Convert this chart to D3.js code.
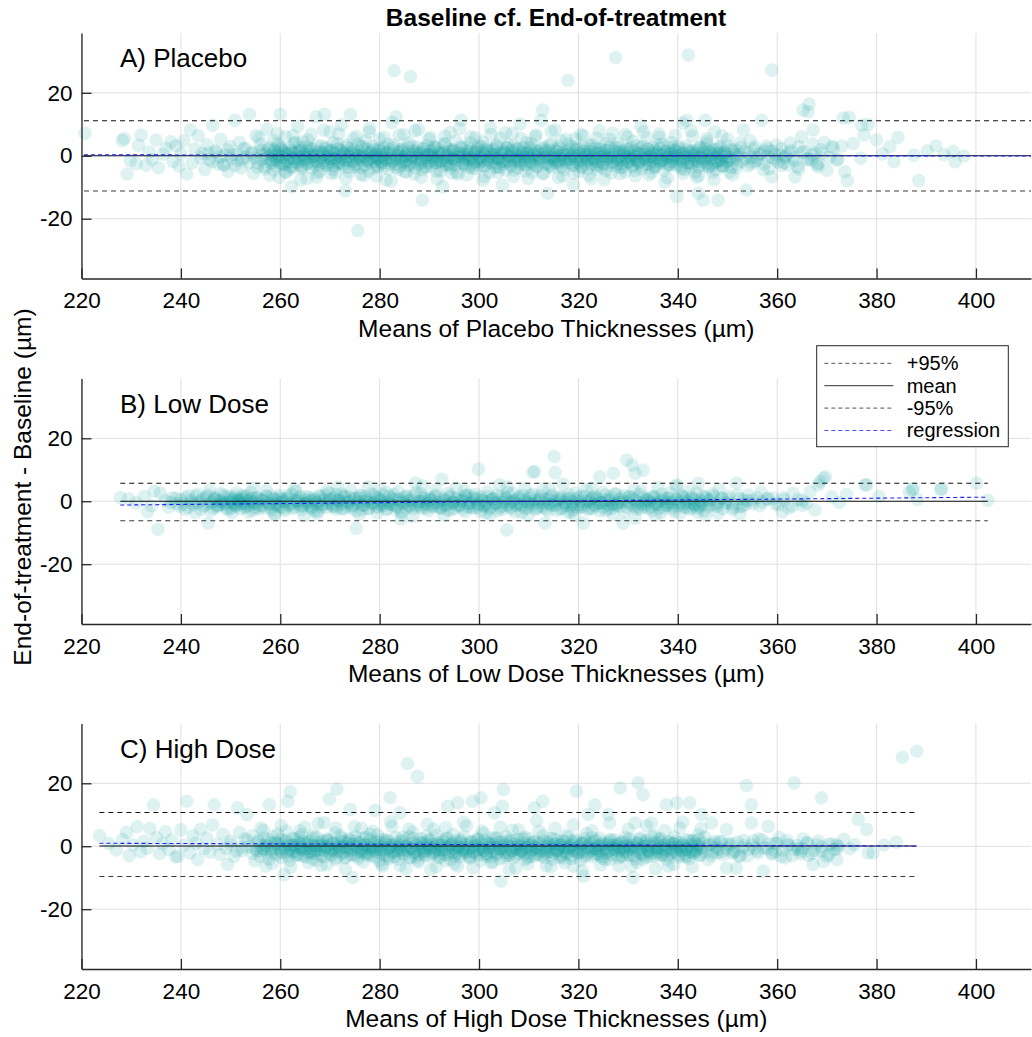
<!DOCTYPE html>
<html>
<head>
<meta charset="utf-8">
<script src="https://cdn.jsdelivr.net/npm/d3@7"></script>
<style>
  body { margin: 0; background: #fff; }
  svg { display: block; }
  text { font-family: "Liberation Sans", Arial, Helvetica, sans-serif; fill: #000; }
</style>
</head>
<body>
<svg id="chart" width="1032" height="1037"></svg>
<script>
// ---- Bland–Altman data: [mean of the two thicknesses (µm), end-of-treatment − baseline (µm)] ----
const figureTitle = "Baseline cf. End-of-treatment";
const yAxisTitle = "End-of-treatment - Baseline (µm)";
const panelNames = ["A) Placebo", "B) Low Dose", "C) High Dose"];
const xAxisTitles = [
  "Means of Placebo Thicknesses (µm)",
  "Means of Low Dose Thicknesses (µm)",
  "Means of High Dose Thicknesses (µm)"
];
const xTicks = [220, 240, 260, 280, 300, 320, 340, 360, 380, 400];
const yTicks = [-20, 0, 20];
const legendLabels = ["+95%", "mean", "-95%", "regression"];

// limits of agreement, mean difference and regression end values per group
const upperLimits = [11.1, 5.7, 10.7];
const meanDiffs = [0.0, 0.0, 0.1];
const lowerLimits = [-11.2, -6.2, -9.6];
const lineSpans = [[220.5, 412], [227.8, 402.4], [223.6, 388.1]];
const regressionEnds = [[0.3, -0.1], [-1.2, 1.3], [0.95, 0.05]];

const placeboPoints = [
[220.7,7.1],[228.6,5.5],[229.2,-5.8],[228.2,4.8],[229.8,-1.5],[231,-2.5],[231.5,3.3],[232,6.6],[233,-3],[233.6,1.2],[234.2,-1.2],[235,5],[235.5,-3.8],[236.4,0.5],[237,2.4],[238,4.4],[238.4,-1.8],[239,3.2],[239.6,-3.3],[240,0.6],
[240.6,4.7],[241.2,-5.8],[241.9,8.2],[242.3,-2.2],[242.8,2.1],[243.5,6.3],[244,-0.6],[244.3,0.8],[244.8,-4.4],[245.3,3.5],[245.7,-1.2],[246.4,9.7],[246.9,1.5],[247.4,-2.6],[248,5.2],[248.7,-3],[249,0.2],[249.5,-5],[249.9,2.9],
[250.4,0.4],[250.9,11.3],[251.3,-1.6],[251.8,4.3],[252.2,-3.9],[252.6,2.2],[253.1,-0.5],[253.8,13.2],[254.2,1.1],[254.6,-5.6],[255.1,6.4],[255.5,-2.3],[256,3.6],[256.4,0.2],[256.9,-4.1],[257.3,8.5],[257.7,1.9],[258.2,-1.4],[258.6,4.9],[259,-0.3],[259.5,3.7],[259.8,-6.9],
[260,13.2],[260.3,2],[260.7,-2.6],[261.1,6.1],[261.5,0.7],[261.9,-4.3],[262.3,-9.8],[262.8,3.9],[263.1,-1.1],[263.5,9.3],[263.9,1.6],[264.2,-3.2],[264.6,4.4],[265,-0.4],[265.4,-7.2],[265.8,2.7],[266.2,6.9],[266.6,-1.9],[267.2,12.4],[267.5,0.3],[267.9,-4.9],[268.3,3.1],[268.9,13.2],[269.2,-2.7],[269.6,1.2],[270,7.6],
[270.3,-0.9],[270.7,4.1],[271.1,-5.4],[271.5,2.4],[271.9,-2.1],[272.3,9.8],[272.7,0.5],[273.1,-11.1],[273.4,3.4],[273.8,-1.5],[274.1,13.2],[274.5,1.1],[274.9,-3.6],[275.3,6.2],[275.6,-23.8],[276,-0.2],[276.4,2.8],[276.8,-6.3],[277.2,4.7],[277.6,-1.3],[278,8.7],[278.4,0.9],[278.8,-3.9],[279.2,2],[279.6,-0.7],
[280,5.3],[280.4,-2.4],[280.8,1.4],[281.3,-7.7],[281.7,3.6],[282.1,-0.9],[282.5,10.6],[282.9,27],[283.3,12.4],[283.7,-4.4],[284.1,1.9],[284.5,-1.6],[284.9,6.7],[285.3,0.1],[285.7,-2.9],[286.2,25.1],[286.6,3],[287,-5.8],[287.4,0.8],[287.8,8.3],[288.2,-1.8],[288.6,-14.1],[289,2.3],[289.4,-3.5],[289.8,0.4],
[290.2,5.9],[290.6,-0.6],[291,2.8],[291.4,-4.9],[291.8,1.1],[292.2,-1.9],[292.7,-9.8],[293,3.9],[293.4,0.2],[293.8,-3],[294.2,7.4],[294.6,1.5],[295,-1.2],[295.4,4.6],[295.8,-5.9],[296.4,11.3],[296.7,0.7],[297.1,-2.5],[297.5,2.6],[297.9,-0.3],[298.3,6],[298.7,-4],[299.1,1.3],[299.5,-1.7],[299.9,3.2],
[300.3,-0.8],[300.7,4.4],[301.1,-6.6],[301.5,1.8],[301.9,-2.3],[302.3,8.9],[302.7,0.4],[303.1,-3.7],[303.5,2.9],[303.9,-1],[304.3,5.6],[304.7,-9.3],[305.1,1],[305.5,-2],[305.9,3.5],[306.3,-0.4],[306.7,7.1],[307.1,-4.6],[307.5,2.2],[307.9,-1.4],[308.3,10.1],[308.7,0.9],[309.1,-2.8],[309.5,4.1],[309.9,-0.1],
[310.3,2.6],[310.7,-5.2],[311.1,0.6],[311.5,6.6],[311.9,-1.6],[312.5,11.3],[312.8,14.5],[313.2,1.7],[313.8,-11.9],[314.1,-3.1],[314.5,3.8],[314.9,-0.6],[315.3,8.2],[315.7,1.3],[316.1,-2.2],[316.5,4.8],[316.9,-6.4],[317.3,0.2],[317.9,24],[318.2,-1.1],[318.6,2.9],[319,-9.2],[319.4,5.4],[319.8,-0.3],
[320.2,1.9],[320.6,-3.4],[321,6.3],[321.4,0.5],[321.8,-1.8],[322.2,3.3],[322.6,-7.3],[323,-0.9],[323.4,2.4],[323.8,-4.2],[324.2,7.9],[324.6,1],[325,-2.6],[325.4,3.9],[325.8,-0.5],[326.2,5.2],[326.6,-5.5],[327.5,31.2],[327.4,1.6],[327.8,-1.5],[328.2,2.7],[328.6,-3.8],[329,0.3],[329.4,6.8],[329.8,-2],
[330.2,2],[330.6,-0.8],[331,4.6],[331.4,-4.7],[331.8,0.8],[332.2,-2.1],[332.6,9.4],[333,3],[333.4,-1.2],[333.8,5.7],[334.2,-6.1],[334.6,0.1],[335,2.5],[335.4,-3.3],[335.8,1.2],[336.2,7],[336.6,-1.6],[337,3.6],[337.4,-8.4],[337.8,0.6],[338.2,-2.7],[338.6,4.2],[339,-0.4],[339.4,1.8],[339.8,-13],
[340.2,3],[340.6,-1],[341,10.4],[341.4,-4.4],[341.8,11.3],[342.1,32],[342.2,1.4],[342.6,-2.3],[343,6.2],[343.4,0.2],[343.8,-6.8],[344.1,-11.9],[344.4,2.6],[344.8,-0.9],[345.1,-14.1],[345.5,11.3],[345.8,4.5],[346.2,-3.4],[346.6,1],[347,-5.3],[347.4,7.6],[347.8,-1.7],[348.1,-14.1],[348.5,2.9],[349,-3],[349.5,0.5],
[350,5.3],[350.5,-1.3],[351,-6.1],[351.5,2],[352,-0.2],[352.6,4],[353.2,8.2],[353.8,-10.9],[354.2,0.9],[354.8,-2.5],[355.5,2.9],[356,-0.6],[356.9,11.3],[357.4,1.5],[357.9,3.1],[358.4,-4],[358.9,-6.7],[358.9,27.2],[359.5,0.4],
[360.2,-2],[360.8,2.3],[361.5,-0.5],[362.2,-2.9],[362.8,1.6],[363.6,-6.7],[364.4,2.9],[364.9,6],[365.2,14.5],[366.2,14],[366.4,16.4],[366.9,-1.4],[367.2,8.2],[367.6,0.8],[368.2,-3.5],[368.8,1.9],[369.5,4.3],
[370.5,-0.6],[371.3,2.5],[372,-1.4],[373,3.1],[373.3,12],[373.6,-5.1],[374.1,-7.9],[374.5,12.2],[375.3,3.9],[376.8,-0.8],[377,9.7],[377.5,6.6],[378.3,10],[380,5],[381.2,0.6],[382.7,2.9],[383.5,-1.9],[384.3,5.9],[387.5,0.2],[388.5,-7.9],[390.2,1.5],[392,3.1],[393.6,0.3],[395.4,1.3],[395.8,-1.9],[397.6,-0.1]
];

// the dense central band of the placebo group
const placeboCorePoints = [
[256.2,-1.2],[256.5,1.8],[256.8,-3.4],[257.1,0.5],[257.4,-0.8],[257.7,2.6],[258,-2.1],[258.3,0.1],[258.6,-4.6],[258.9,1.3],[259.2,-1.5],[259.5,0.8],[259.8,3.1],[260.1,-2.8],[260.4,-0.4],[260.7,1.6],[261,-5.1],[261.3,0.3],[261.6,-1.9],[261.9,2.4],[262.2,-0.7],[262.5,-3.6],[262.8,1],[263.1,4.2],[263.4,-2.3],[263.7,-0.1],[264,1.9],[264.3,-4],[264.6,-1.1],[264.9,0.6],
[265.2,2.9],[265.5,-2.6],[265.8,-0.5],[266.1,1.4],[266.4,-3.9],[266.7,0.2],[267,-1.4],[267.3,3.3],[267.6,-5.4],[267.9,-0.9],[268.2,1.2],[268.5,-2.2],[268.8,0.4],[269.1,2.2],[269.4,-3.1],[269.7,-0.3],[270,1.7],[270.3,-1.9],[270.6,-4.4],[270.9,0.9],[271.2,-0.6],[271.5,3.8],[271.8,-2.5],[272.1,0.1],[272.4,1.5],[272.7,-3.3],[273,-1.2],[273.3,2.7],[273.6,-0.2],[273.9,-5.1],
[274.2,0.7],[274.5,-1.6],[274.8,1.8],[275.1,-2.9],[275.4,0.3],[275.7,3.6],[276,-1],[276.3,-3.8],[276.6,0.5],[276.9,-0.4],[277.2,2.1],[277.5,-2],[277.8,-4.8],[278.1,1.1],[278.4,-0.8],[278.7,3],[279,-1.7],[279.3,0.2],[279.6,-3.5],[279.9,1.6],[280.2,-0.5],[280.5,-2.4],[280.8,2.6],[281.1,-1.1],[281.4,0.6],[281.7,-4.2],[282,1.9],[282.3,-0.3],[282.6,-1.8],[282.9,3.4],
[283.2,-2.7],[283.5,0.1],[283.8,1.2],[284.1,-3.2],[284.4,-0.7],[284.7,2.3],[285,-5],[285.3,-1.3],[285.6,0.9],[285.9,4],[286.2,-2.1],[286.5,-0.2],[286.8,1.5],[287.1,-3.7],[287.4,-1],[287.7,2.8],[288,0.3],[288.3,-2.5],[288.6,-4.4],[288.9,1.1],[289.2,-0.6],[289.5,3.2],[289.8,-1.9],[290.1,0.4],[290.4,-3.4],[290.7,1.7],[291,-0.9],[291.3,-2.3],[291.6,2.5],[291.9,-0.1],
[292.2,-4.9],[292.5,0.8],[292.8,-1.5],[293.1,3.7],[293.4,-2.8],[293.7,0],[294,1.3],[294.3,-3.6],[294.6,-0.8],[294.9,2],[295.2,-1.6],[295.5,-5.3],[295.8,0.6],[296.1,-0.4],[296.4,2.9],[296.7,-2.2],[297,0.2],[297.3,-3.1],[297.6,1.5],[297.9,-1.2],[298.2,4.1],[298.5,-0.3],[298.8,-2.6],[299.1,0.9],[299.4,-4.1],[299.7,2.2],[300,-0.7],[300.3,-1.8],[300.6,1.2],[300.9,-3.3],
[301.2,0.3],[301.5,2.7],[301.8,-1.4],[302.1,-5.2],[302.4,0.7],[302.7,-0.5],[303,1.9],[303.3,-2.4],[303.6,3.5],[303.9,-0.9],[304.2,-3.7],[304.5,0.4],[304.8,1.6],[305.1,-1.7],[305.4,-4.5],[305.7,2.4],[306,-0.2],[306.3,-2.8],[306.6,0.9],[306.9,3.1],[307.2,-1.3],[307.5,-0.4],[307.8,-3.9],[308.1,1.4],[308.4,-2],[308.7,0.1],[309,2.6],[309.3,-4.8],[309.6,-0.7],[309.9,1],
[310.2,-1.9],[310.5,3.9],[310.8,-2.9],[311.1,-0.1],[311.4,1.8],[311.7,-3.4],[312,0.5],[312.3,-1.1],[312.6,2.3],[312.9,-5.5],[313.2,-0.6],[313.5,1.1],[313.8,-2.3],[314.1,3.3],[314.4,0],[314.7,-3.8],[315,-1.3],[315.3,1.6],[315.6,-0.4],[315.9,-2.7],[316.2,2.8],[316.5,-1],[316.8,0.6],[317.1,-4.3],[317.4,-1.6],[317.7,1.4],[318,3.6],[318.3,-2.2],[318.6,-0.3],[318.9,0.9],
[319.2,-3.1],[319.5,2],[319.8,-1.5],[320.1,-5],[320.4,0.4],[320.7,-0.8],[321,2.6],[321.3,-2.6],[321.6,0.1],[321.9,-4],[322.2,1.3],[322.5,-1.2],[322.8,3.4],[323.1,-0.5],[323.4,-2.9],[323.7,0.8],[324,-1.7],[324.3,2.1],[324.6,-3.6],[324.9,-0.2],[325.2,1.6],[325.5,-4.7],[325.8,-1],[326.1,0.5],[326.4,2.9],[326.7,-2.1],[327,-0.4],[327.3,1.2],[327.6,-3.3],[327.9,3.8],
[328.2,-1.3],[328.5,0.2],[328.8,-2.5],[329.1,1.7],[329.4,-5.1],[329.7,-0.6],[330,0.9],[330.3,-1.8],[330.6,2.5],[330.9,-3.5],[331.2,0],[331.5,-1.1],[331.8,3.2],[332.1,-2.3],[332.4,0.6],[332.7,-4.2],[333,1.4],[333.3,-0.7],[333.6,-2.8],[333.9,2.2],[334.2,-0.3],[334.5,-1.6],[334.8,0.8],[335.1,-3.9],[335.4,1.9],[335.7,-0.9],[336,3.5],[336.3,-2],[336.6,0.3],[336.9,-1.4],
[337.2,-4.6],[337.5,1.1],[337.8,-0.5],[338.1,2.7],[338.4,-2.9],[338.7,0.5],[339,-1.2],[339.3,1.5],[339.6,-3.2],[339.9,-0.2],[340.2,2.3],[340.5,-1.7],[340.8,-4.1],[341.1,0.7],[341.4,-0.6],[341.7,3],[342,-2.4],[342.3,0.2],[342.6,-3.6],[342.9,1.6],[343.2,-1],[343.5,-5.2],[343.8,0.9],[344.1,-1.8],[344.4,2.7],[344.7,-0.4],[345,-2.9],[345.3,1.3],[345.6,-1.3],[345.9,3.6],
[346.2,-3.8],[346.5,0.4],[346.8,-0.8],[347.1,1.9],[347.4,-2.2],[347.7,-4.4],[348,0.6],[348.3,2.4],[348.6,-1.5],[348.9,-0.1],[349.2,-3.3],[349.5,1.2],[349.8,-2],[350.1,3.1],[350.4,-0.6],[350.7,-3.7],[351,1.4],[351.3,-1.2],[351.6,0.3],[351.9,-2.6],
[258.1,0.6],[258.4,-2.4],[258.7,1.9],[259,-0.9],[259.3,-3.2],[259.6,0.2],[259.9,-1.6],[260.2,2.3],[260.5,-0.6],[260.8,-2.9],[261.1,1],[261.4,-1.3],[261.7,0.4],[262,-3.4],[262.3,1.6],[262.6,-0.8],[262.9,-2],[263.2,0.9],[263.5,-0.3],[263.8,2.6],[264.1,-1.8],[264.4,-3.5],[264.7,0.3],[265,-1.1],[265.3,1.4],[265.6,-2.3],[265.9,0.7],[266.2,-0.4],[266.5,2.1],[266.8,-2.8],
[267.1,0],[267.4,-1.7],[267.7,1.3],[268,-3],[268.3,-0.6],[268.6,0.9],[268.9,-1.4],[269.2,2.7],[269.5,-2.1],[269.8,0.1],[270.1,-0.9],[270.4,1.6],[270.7,-3.3],[271,-1.2],[271.3,0.5],[271.6,-2],[271.9,2],[272.2,-0.5],[272.5,-2.6],[272.8,0.8],[273.1,-1.5],[273.4,1.2],[273.7,-3.7],[274,-0.3],[274.3,2.4],[274.6,-1.9],[274.9,0.2],[275.2,-0.8],[275.5,-2.7],[275.8,1.5],
[276.1,-0.1],[276.4,-1.6],[276.7,2.9],[277,-3.1],[277.3,-0.7],[277.6,0.7],[277.9,-1.3],[278.2,-2.3],[278.5,1.8],[278.8,-0.4],[279.1,0.4],[279.4,-2.9],[279.7,-1],[280,2.2],[280.3,-1.8],[280.6,0.3],[280.9,-3.4],[281.2,-0.6],[281.5,1.1],[281.8,-1.5],[282.1,-2.5],[282.4,0.6],[282.7,2.5],[283,-0.9],[283.3,-3.6],[283.6,-1.2],[283.9,0.9],[284.2,-0.2],[284.5,1.7],[284.8,-2.2],
[285.1,0],[285.4,-1.6],[285.7,2.6],[286,-3],[286.3,-0.8],[286.6,0.5],[286.9,-1.9],[287.2,1.3],[287.5,-0.4],[287.8,-2.8],[288.1,0.8],[288.4,-1.1],[288.7,2.1],[289,-3.5],[289.3,-0.3],[289.6,0.2],[289.9,-2.4],[290.2,1.5],[290.5,-1.4],[290.8,-0.1],[291.1,2.8],[291.4,-2.1],[291.7,-0.7],[292,0.6],[292.3,-1.6],[292.6,-3.3],[292.9,1.2],[293.2,-0.5],[293.5,-1.8],[293.8,2.3],
[294.1,-2.7],[294.4,0.3],[294.7,-1],[295,1.6],[295.3,-3.1],[295.6,-0.2],[295.9,-1.5],[296.2,0.9],[296.5,2.5],[296.8,-2.5],[297.1,-0.6],[297.4,-1.2],[297.7,0.5],[298,-3.6],[298.3,1.9],[298.6,-0.9],[298.9,-2],[299.2,0.1],[299.5,1.2],[299.8,-2.9],[300.1,-0.4],[300.4,2.9],[300.7,-1.6],[301,0.7],[301.3,-3.2],[301.6,-1.1],[301.9,1.4],[302.2,-0.3],[302.5,-2.2],[302.8,2.2],
[303.1,-1],[303.4,0.4],[303.7,-3.6],[304,-0.6],[304.3,1.1],[304.6,-1.7],[304.9,-2.6],[305.2,0.9],[305.5,2.6],[305.8,-1.3],[306.1,-0.2],[306.4,-3.3],[306.7,1.7],[307,-0.8],[307.3,-2],[307.6,0.3],[307.9,2.1],[308.2,-2.8],[308.5,-0.5],[308.8,1],[309.1,-1.4],[309.4,-3],[309.7,0.6],[310,-0.7],[310.3,2.4],[310.6,-2.3],[310.9,0.2],[311.2,-1.2],[311.5,-3.5],[311.8,1.3],
[312.1,-0.4],[312.4,-1.9],[312.7,0.8],[313,2.7],[313.3,-2.6],[313.6,-0.2],[313.9,-1],[314.2,1.6],[314.5,-3.2],[314.8,-0.6],[315.1,0.4],[315.4,-2.1],[315.7,2.2],[316,-1.5],[316.3,0.1],[316.6,-3.4],[316.9,1.1],[317.2,-0.7],[317.5,-2.4],[317.8,0.5],[318.1,1.9],[318.4,-1.2],[318.7,-3],[319,0],[319.3,-0.9],[319.6,2.6],[319.9,-2.2],[320.2,0.8],[320.5,-1.6],[320.8,-3.7],
[321.1,1.4],[321.4,-0.3],[321.7,-1.3],[322,0.3],[322.3,2.3],[322.6,-2.7],[322.9,-0.6],[323.2,1],[323.5,-1.8],[323.8,-3.3],[324.1,0.6],[324.4,-0.4],[324.7,2],[325,-2.3],[325.3,0],[325.6,-1.1],[325.9,1.6],[326.2,-3.1],[326.5,-0.8],[326.8,0.4],[327.1,-1.9],[327.4,2.7],[327.7,-2.5],[328,-0.3],[328.3,1.2],[328.6,-1.4],[328.9,-3.6],[329.2,0.9],[329.5,-0.6],[329.8,2.1],
[330.1,-2.1],[330.4,0.1],[330.7,-1.2],[331,-2.9],[331.3,1.5],[331.6,-0.4],[331.9,-1.7],[332.2,0.7],[332.5,2.5],[332.8,-3.2],[333.1,-0.9],[333.4,0.3],[333.7,-1.4],[334,1.9],[334.3,-2.6],[334.6,-0.2],[334.9,1.1],[335.2,-1.9],[335.5,-3.4],[335.8,0.5],[336.1,-0.7],[336.4,2.3],[336.7,-2.3],[337,0.2],[337.3,-1],[337.6,1.4],[337.9,-3],[338.2,-0.5],[338.5,0.8],[338.8,-1.8],
[339.1,2.6],[339.4,-2.4],[339.7,0.3],[340,-0.8],[340.3,1.2],[340.6,-3.3],[340.9,-1.4],[341.2,0.6],[341.5,-0.3],[341.8,2],[342.1,-2.1],[342.4,-0.7],[342.7,1.1],[343,-2.8],[343.3,0],[343.6,-1.5],[343.9,1.7],[344.2,-3.5],[344.5,-0.5],[344.8,0.7],[345.1,-1.9],[345.4,2.4],[345.7,-2.5],[346,-0.1],[346.3,1.3],[346.6,-1.2],[346.9,-3.1],[347.2,0.4],[347.5,-0.7],[347.8,2.1],
[348.1,-2],[348.4,0.9],[348.7,-1.3],[349,-3.4],[349.3,1.2],[349.6,-0.4],[349.9,-1.7],
[245.5,0.8],[246.3,-1.9],[247.1,1.2],[247.9,-0.4],[248.6,-2.7],[249.4,1.8],[250.2,-0.9],[250.9,-3.1],[251.6,0.3],[252.3,-1.2],[253,2.4],[253.7,-2.2],[254.3,0.6],[254.9,-0.7],[255.4,-3.6],[255.8,1.6],
[352.3,0.4],[352.9,-1.8],[353.5,1.3],[354.1,-3.2],[354.7,-0.5],[355.3,2.1],[356,-1.4],[356.7,0.7],[357.4,-2.6],[358.1,-0.2],[358.9,1.5],[359.7,-1.1],[360.5,0.3],[361.4,-2.2],[362.3,1.1],[363.2,-0.6],[364.1,-3.5],[365,0.9],[366,-1.3],[367.1,0.2],[368.3,-2.4]
];

// the looser fringe around the placebo band
const placeboSpreadPoints = [
[255.7,5.8],[257.9,-6.2],[259.4,7.1],[261.2,-5.3],[262.6,6.4],[264.1,-7.6],[265.6,5.1],[267.3,-6.8],[268.7,8.2],[270.2,-5.6],[271.8,6.9],[273.2,-7.1],[274.7,5.4],[276.2,-5.9],[277.9,7.5],[279.3,-6.5],[280.9,5.9],[282.3,-8.1],[283.9,6.6],[285.4,-5.2],[287.1,7.9],[288.4,-6.9],[289.9,5.2],[291.6,-7.4],[293.1,6.2],[294.5,-5.5],[296.1,8.6],[297.6,-6.1],[299.2,5.7],[300.8,-7.8],
[302.4,6.7],[303.8,-5.4],[305.3,7.3],[306.9,-6.6],[308.5,5.5],[309.9,-7.2],[311.3,6.1],[312.9,-5.8],[314.5,7.7],[316,-6.9],[317.6,5.3],[319.1,-5.5],[320.5,6.8],[322.1,-6.2],[323.7,5.6],[325.2,-7.5],[326.9,7.2],[328.4,-5.7],[329.9,6],[331.5,-6.4],[333.1,7.6],[334.7,-5.3],[336.3,5.9],[337.9,-7],[339.5,6.5],[341.1,-5.6],[342.7,7.9],[344.2,-6.3],[345.8,5.4],[347.3,-7.7],
[348.9,6.3],[350.4,-5.2],[350.9,1.8],[351.8,-3.9],[352.7,2.6],[353.6,-0.9],[354.5,4.8],[355.4,-1.9],[356.3,0.5],[357.2,-4.4],[358.1,2.2],[359,-0.6],[359.9,3.4],[360.8,-3.1],[361.7,0.1],[362.6,4],[363.5,-1.5],[364.4,-4.2],[365.3,1.3],[366.2,-0.9],[367.1,3.7],[368,-2.8],[369,0.7],[370,-4.6],[371,2.9],[372.2,-1.1]
];

const lowDosePoints = [
[227.8,1.2],[229.5,0.8],[231,-0.6],[232.6,1.5],[233.3,-3.3],[234.1,-1.4],[234.6,3.2],[235.4,-8.9],[235.9,2.6],[236.8,0.3],[237.5,-1.9],[238.3,1.1],[239.2,-0.8],[240,0.5],[240.8,-2.6],[241.5,1.8],[242.2,-0.4],[242.9,-3.6],[243.4,2.2],[244,0.2],[244.6,-1.5],[245.2,1.4],[245.5,-7],[246,-3.1],[246.7,0.8],[247.3,-1.2],[248,2.5],[248.6,-0.3],[249.2,-2.2],[249.8,1.6],
[250.3,0.1],[250.8,-1.3],[251.2,2.7],[251.6,0.6],[252,-0.9],[252.4,1.9],[252.8,-1.8],[253.2,0.4],[253.6,-3.5],[254.1,2.8],[254.6,-0.7],[255.2,1],[255.8,-2.4],[256.5,0.3],[257.2,3.4],[257.8,-1],[258.3,1.6],[258.8,-3.9],[259.3,-0.2],[259.8,-1.7],[260.3,0.7],[260.9,-2.9],[261.5,1.9],[262.2,-0.6],[262.9,3.8],[263.6,0.2],[264.2,-1.5],[264.8,-4.6],[265.3,-0.5],[265.8,1.1],
[266.3,-1.9],[266.9,0.4],[267.5,-3.2],[268.1,1.5],[268.7,-0.9],[269.4,3.4],[270,0.6],[270.6,-1.7],[271.2,2.1],[271.8,0.3],[272.4,-2.3],[273,1.6],[273.6,-0.4],[274.2,3.3],[274.8,-1.2],[275.3,-8.6],[275.9,0.9],[276.5,-2.7],[277.1,1.3],[277.7,4.6],[278.3,-0.5],[278.9,2],[279.5,-3.6],[280.1,0.2],[280.7,-1.4],[281.3,2.8],[281.9,-0.8],[282.5,1],[283.1,-2.5],[283.7,3.1],
[284.3,-5.6],[284.9,-0.2],[285.5,1.8],[286.1,-1.6],[286.7,-4.8],[287.2,5.8],[287.8,-0.9],[288.3,2.4],[288.9,0.1],[289.5,-2.1],[290.1,1.2],[290.7,-0.6],[291.3,3.6],[291.9,-1.8],[292.5,7],[293,0.5],[293.6,-2.8],[294.2,1.7],[294.8,-0.3],[295.4,4.2],[296,-1.1],[296.6,0.8],[297.2,-3.3],[297.8,2],[298.4,-0.7],[299,1.3],[299.6,-2],[299.9,10.2],[300.5,0.4],[301.1,-1.5],
[301.7,3],[302.3,-4.1],[302.9,0.9],[303.5,-0.9],[304.1,5.2],[304.7,-2.6],[305.3,1.4],[305.6,-9.1],[306.2,-0.2],[306.8,2.5],[307.4,-1.3],[308,0.7],[308.6,-3.5],[309.2,4],[309.8,-0.5],[310.4,1.8],[310.8,9.2],[311.2,9.4],[311.6,-2.2],[312.2,0.3],[312.8,3.4],[313.3,-7],[313.9,-0.8],[314.5,1.5],[315.1,14.2],[315.3,9.1],[315.7,-2.9],[316.3,0.6],[316.9,5.5],[317.5,-1.4],
[318.1,2.1],[318.7,-0.2],[319.3,-4.5],[319.9,1.1],[320.5,-1.7],[321,-7],[321.6,3.7],[322.2,0.1],[322.8,-2.4],[323.4,1.6],[324,-0.6],[324.3,7.8],[324.9,2.8],[325.5,-3.1],[326.1,0.5],[326.7,-1.1],[327,8.9],[327.6,2.3],[328.2,-0.4],[329,-7],[329.7,13.1],[330.2,1.3],[330.8,11.5],[331.4,8.9],[331.4,-5.4],[332,-1.6],[332.6,3.2],[333,9.9],[333.6,0.2],[334.2,-2.2],
[334.8,1.4],[335.4,-0.9],[336,4.4],[336.6,-3.6],[337.2,0.8],[337.8,-1.3],[338.4,2.6],[339,-0.3],[339.8,5.2],[340.4,-3.8],[341,1.2],[341.6,-0.7],[342.2,3.1],[342.8,-2],[343.4,0.5],[344.1,5.7],[344.4,-1.7],[345,1.8],[345.6,-4.4],[346.3,0.2],[347,2.4],[347.6,-1.2],[348.1,-3.8],[348.8,0.9],[349.5,-0.5],[350.3,1.6],[351,-2.6],[351.8,5.7],[352.5,-1.7],[353.3,0.4],
[354.2,2],[355.1,-0.8],[356,1.1],[357,-0.2],[358.1,0.9],[359.2,1],[360.3,-1.1],[361.4,0.5],[362.3,-2.1],[363.2,2.5],[364.2,0.6],[365.1,-1.3],[365.9,-0.6],[366.6,3],[367.6,-2.8],[368.3,5.2],[368.6,6.2],[369.3,7.3],[369.7,7.8],[371,1.4],[372.5,-0.4],[374,2.1],[377.7,5.2],[378,5.2],[380.5,1.5],[386.6,2.8],[387.2,3.6],[387.4,4.1],[388.2,0.6],[392.9,3.6],[393.1,4.1],[400.1,5.7],[402.4,0.3]
];

// the dense central band of the low-dose group
const lowDoseCorePoints = [
[240.5,-0.8],[241,1.1],[241.5,-2],[242,0.3],[242.5,-1.1],[243,1.6],[243.5,-0.4],[244,-2.6],[244.5,0.9],[245,-1],[245.5,1.9],[246,-0.3],[246.5,-2.2],[247,0.6],[247.5,-1.4],[248,0.2],[248.5,2],[249,-0.9],[249.5,-2.8],[250,0.7],[250.4,-0.5],[250.8,1.5],[251.2,-1.6],[251.6,0.1],[252,-2.4],[252.4,0.9],[252.8,-0.7],[253.2,1.7],[253.6,-1.2],[254,0.4],
[254.4,-2.9],[254.8,-0.2],[255.3,1.2],[255.8,-1.5],[256.3,0.5],[256.8,-2.1],[257.3,1.4],[257.8,-0.6],[258.3,-2.8],[258.8,0.8],[259.3,-1.3],[259.8,1.9],[260.3,-0.2],[260.8,-2.3],[261.3,0.6],[261.8,-1],[262.3,2.2],[262.8,-1.8],[263.3,0],[263.8,1.1],[264.3,-2.6],[264.8,-0.7],[265.3,1.5],[265.8,-1.4],[266.3,0.3],[266.8,-3.1],[267.3,-0.4],[267.8,1.8],[268.3,-1.1],[268.8,0.5],
[269.3,-2],[269.8,2.6],[270.3,-0.8],[270.8,1],[271.3,-1.7],[271.8,0.2],[272.3,2.3],[272.8,-2.5],[273.3,-0.3],[273.8,1.3],[274.3,-1.5],[274.8,0.7],[275.3,-3],[275.8,-0.1],[276.3,1.7],[276.8,-1.2],[277.3,0.4],[277.8,-2.3],[278.3,2.4],[278.8,-0.5],[279.3,-1.9],[279.8,0.9],[280.3,-1],[280.8,1.9],[281.3,-2.7],[281.8,0.1],[282.3,-0.9],[282.8,2.1],[283.3,-1.6],[283.8,0.6],
[284.3,-3.3],[284.8,-0.6],[285.3,1.4],[285.8,-1.3],[286.3,0.3],[286.8,-2.4],[287.3,2.8],[287.8,-0.2],[288.3,-1.7],[288.8,1.1],[289.3,-0.8],[289.8,-3],[290.3,0.5],[290.8,-1.4],[291.3,1.9],[291.8,-0.4],[292.3,-2.2],[292.8,0.8],[293.3,-1.1],[293.8,2.5],[294.3,-2.8],[294.8,-0.3],[295.3,1.2],[295.8,-1.6],[296.3,0],[296.8,-2.5],[297.3,1.7],[297.8,-0.7],[298.3,-1.9],[298.8,0.6],
[299.3,2.2],[299.8,-1.2],[300.3,-3.2],[300.8,0.2],[301.3,-0.9],[301.8,1.5],[302.3,-2],[302.8,0.7],[303.3,-0.5],[303.8,-2.9],[304.3,1.3],[304.8,-1.5],[305.3,0.4],[305.8,2.7],[306.3,-1.8],[306.8,-0.2],[307.3,-3.4],[307.8,0.9],[308.3,-1],[308.8,1.8],[309.3,-2.3],[309.8,0.1],[310.3,-0.7],[310.8,2.3],[311.3,-2.6],[311.8,-0.4],[312.3,1],[312.8,-1.7],[313.3,0.6],[313.8,-3.1],
[314.3,-0.8],[314.8,2],[315.3,-1.3],[315.8,0.3],[316.3,-2.4],[316.8,1.4],[317.3,-0.6],[317.8,-3.5],[318.3,0.8],[318.8,-1.1],[319.3,2.6],[319.8,-2],[320.3,0],[320.8,-0.9],[321.3,1.6],[321.8,-2.7],[322.3,-0.3],[322.8,1.1],[323.3,-1.5],[323.8,0.5],[324.3,-3],[324.8,-0.5],[325.3,1.9],[325.8,-1.2],[326.3,0.2],[326.8,-2.2],[327.3,2.4],[327.8,-0.8],[328.3,-1.6],[328.8,0.9],
[329.3,-3.2],[329.8,-0.1],[330.3,1.5],[330.8,-1.4],[331.3,0.4],[331.8,-2.5],[332.3,2.1],[332.8,-0.6],[333.3,-1.8],[333.8,0.7],[334.3,-0.3],[334.8,-2.9],[335.3,1.2],[335.8,-1],[336.3,0.3],[336.8,2.2],[337.3,-2.1],[337.8,-0.4],[338.3,1],[338.8,-1.5],[339.3,-3.3],[339.8,0.6],[340.3,-0.7],[340.8,1.8],[341.3,-1.9],[341.8,0.1],[342.3,-2.6],[342.8,1.3],[343.3,-0.9],[343.8,2.6],
[344.3,-1.3],[344.8,-0.2],[345.3,-3],[345.8,0.9],[346.5,-1.1],[347.2,1.6],[348,-0.4],[349,-2.3],[350,0.6],[351,-0.9],[352,1.9],[353,-1.6],[354,0.2],
[246.2,-0.5],[246.8,1.2],[247.3,-1.8],[247.9,0],[248.4,-1],[249,1.5],[249.5,-0.3],[250.1,-2.1],[250.6,0.8],[251.1,-1.1],[251.7,0.3],[252.2,-0.6],[252.7,1.3],[253.3,-1.7],[253.8,-0.2],[254.3,0.9],[254.9,-2.2],[255.4,-0.8],[256,0.5],[256.5,-1.3],[257.1,1.7],[257.6,-0.4],[258.1,-2],[258.7,0.6],[259.2,-0.9],[259.8,1.1],[260.3,-1.9],[260.8,-0.1],[261.4,0.9],[261.9,-1.4],
[262.5,-2.4],[263,0.2],[263.6,-0.7],[264.1,1.5],[264.6,-1.6],[265.2,0.4],[265.7,-0.4],[266.3,-2.2],[266.8,1],[267.4,-1.1],[267.9,0.1],[268.4,-1.9],[269,1.8],[269.5,-0.6],[270.1,0.7],[270.6,-1.4],[271.2,-2.5],[271.7,0.4],[272.2,-0.8],[272.8,1.4],[273.3,-1.6],[273.9,0],[274.4,-2.1],[275,0.9],[275.5,-0.5],[276,1.9],[276.6,-1.3],[277.1,-0.2],[277.7,-2.3],[278.2,0.6],
[278.8,-0.9],[279.3,1.2],[279.8,-1.7],[280.4,0.2],[280.9,-0.6],[281.5,-2.4],[282,1.6],[282.6,-1.1],[283.1,0.5],[283.6,-1.8],[284.2,-0.3],[284.7,1.1],[285.3,-2],[285.8,0.3],[286.4,-0.8],[286.9,1.7],[287.4,-1.5],[288,-0.1],[288.5,-2.3],[289.1,0.9],[289.6,-1],[290.2,0.4],[290.7,-1.8],[291.2,1.5],[291.8,-0.4],[292.3,-2.1],[292.9,0.1],[293.4,-1.2],[294,1.2],[294.5,-0.7],
[295,-2.4],[295.6,0.6],[296.1,-1.4],[296.7,0.2],[297.2,1.8],[297.8,-1.7],[298.3,-0.3],[298.8,-2.2],[299.4,0.8],[299.9,-0.9],[300.5,1.3],[301,-1.5],[301.6,-0.1],[302.1,-2.5],[302.6,0.5],[303.2,-0.6],[303.7,1.9],[304.3,-1.9],[304.8,-0.4],[305.4,0.9],[305.9,-1.2],[306.4,-2.3],[307,0.3],[307.5,-0.8],[308.1,1.5],[308.6,-1.6],[309.2,0],[309.7,-2],[310.2,1],[310.8,-1],
[311.3,0.4],[311.9,-1.8],[312.4,1.7],[313,-0.5],[313.5,-2.4],[314,0.7],[314.6,-1.3],[315.1,0.1],[315.7,-0.7],[316.2,1.3],[316.8,-2.1],[317.3,-0.2],[317.8,0.9],[318.4,-1.5],[318.9,-2.5],[319.5,0.5],[320,-0.9],[320.6,1.6],[321.1,-1.7],[321.6,0],[322.2,-2.2],[322.7,0.8],[323.3,-1.1],[323.8,1.2],[324.4,-0.5],[324.9,-1.9],[325.4,0.3],[326,-2.4],[326.5,1.4],[327.1,-0.8],
[327.6,-1.4],[328.2,0.6],[328.7,-0.2],[329.2,1.8],[329.8,-2],[330.3,-0.6],[330.9,0.9],[331.4,-1.6],[332,-0.3],[332.5,-2.3],[333,1.1],[333.6,-0.9],[334.1,0.4],[334.7,-1.7],[335.2,1.6],[335.8,-0.4],[336.3,-2.1],[336.8,0.2],[337.4,-1.2],[337.9,1],[338.5,-0.6],[339,-2.4],[339.6,0.7],[340.1,-1.4],[340.6,0],[341.2,1.5],[341.7,-1.9],[342.3,-0.5],[342.8,0.8],[343.4,-1.1],
[343.9,-2.2],[344.4,0.4],[345,-0.8],[345.5,1.3],[346.1,-1.6],
[238,-0.4],[239,1],[239.8,-1.6],[346.8,0.5],[347.8,-1.7],[348.9,1],[350,-0.6],[351.2,-2],[352.4,0.8],[353.6,-1],[355,0.3],[356.5,-1.5],[358,0.6],[359.6,-0.8],[361.2,1.2],[363,-1.6],[365,0.2]
];

// the looser fringe around the low-dose band
const lowDoseSpreadPoints = [
[245.8,3.4],[250.3,-3.6],[254.6,4.1],[258.9,-4.3],[263.1,3.2],[267.4,-3.9],[271.6,4.4],[275.9,-4.1],[280.1,3.6],[284.5,-3.8],[288.7,4.8],[292.9,-4.4],[297.1,3.3],[301.4,-3.7],[305.7,4.5],[309.9,-4.6],[314.2,3.9],[318.5,-3.4],[322.7,4.2],[327,-4.2],[331.2,3.5],[335.5,-4.5],[339.7,4.6],[344,-3.5],[348.3,3.8],[352.5,-4],[356.8,2.9],[361,-3.3]
];

const highDosePoints = [
[223.6,3.4],[225.5,0.9],[227,-1.2],[228.3,2.1],[229.1,4.4],[229.6,-3],[230.4,0.4],[231.2,6.2],[231.9,-1.8],[232.6,1.5],[233.2,-0.6],[233.8,5.6],[234.5,13.2],[235.1,2.7],[235.7,-2.3],[236.3,0.8],[236.9,4.6],[237.6,-1],[238.2,1.9],[238.9,-3.4],[239.4,-3.2],[240,5.2],[240.6,0.3],[241.2,14.3],[241.8,-2.1],[242.4,3.3],[243,1],[243.4,-4.2],[244,5.4],[244.6,-0.8],
[245.2,2.6],[245.8,-1.9],[246.4,6.8],[246.7,13.2],[247.3,0.6],[247.9,-2.6],[248.5,3.8],[249.1,-0.5],[249.4,-5.8],[250,1.6],[250.7,-3.2],[251.4,12.2],[251.8,4.4],[252.3,-1.4],[252.9,2.4],[253.3,10.1],[253.8,-0.2],[254.4,3.4],[254.9,-4.7],[255.5,1.3],[256.1,5.8],[256.7,-0.9],[257.1,-6.3],[257.5,2],[257.8,13.2],[258.3,-2.4],[258.9,0.7],[259.5,3.9],[260.1,-1.6],[260.8,-9],
[261.2,4.8],[261.5,14.3],[262,17.3],[262.5,0.3],[263.1,-3.1],[263.7,2.8],[264.3,-0.6],[264.9,6.1],[265.5,1.2],[266.1,-2],[266.7,3.5],[267.3,-4.4],[267.9,0.2],[268.2,-6.1],[268.8,7.5],[269.4,1.8],[269.9,15],[270.4,-1.3],[271,4.2],[271.4,18.2],[271.8,-0.1],[272.4,2.5],[273,-3.7],[273.6,0.9],[274.1,11.7],[274.6,-10],[275.1,3.1],[275.7,-1.8],[276.3,5.7],[276.9,0.4],
[277.5,-2.9],[278.1,2.2],[278.7,-0.7],[279.1,11.4],[279.6,3.6],[280.2,-1.2],[280.6,-6.3],[281.1,1.4],[281.7,-4],[282.1,15.4],[282.5,6.4],[283.1,0.1],[283.7,-2.2],[284.1,10.6],[284.6,2.9],[285.3,-7.2],[285.6,26.3],[286.1,-0.4],[286.7,4.5],[287.3,-3.3],[287.6,22.2],[288.2,1.1],[288.8,-1.5],[289.4,3.2],[290,-0.3],[290.3,-7.4],[290.9,5.4],[291.5,0.6],[292.1,-2.5],[292.7,1.9],
[293.3,-4.6],[293.7,12.7],[294.2,0.3],[294.8,3.7],[295.4,-1.7],[295.7,13.8],[295.7,-6.3],[296.3,2.1],[296.9,-0.5],[297.5,6.5],[298.1,-3],[298.7,14.3],[299.2,1.3],[299.8,-1.1],[300.4,15.4],[300.9,4.1],[301.5,-2.3],[302.1,0.8],[302.7,-4.9],[303.1,10.6],[303.6,2.6],[304.2,-0.7],[304.4,-11.1],[304.7,12.7],[304.9,18],[305.5,1.5],[306.1,-2.9],[306.7,5.1],[307.4,-6.9],[307.9,0.2],
[308.5,-1.4],[309.1,3],[309.7,-3.6],[310.3,1],[311.1,12.2],[311.5,-0.6],[312.1,4.7],[312.8,14.3],[313.3,-2.1],[313.9,0.7],[314.5,-6.5],[315.1,2.4],[315.7,-1.3],[316.3,0.4],[316.9,-3.8],[317.5,3.5],[318.1,-0.2],[318.7,1.6],[319,-6.3],[319.6,17.5],[320.2,-1.9],[320.8,0.9],[321,-9.5],[321.6,4],[322,10.1],[322.6,-0.8],[323.3,13.2],[323.6,1.8],[324.2,-2.6],[324.8,0.3],
[325.4,-4.3],[326,10.1],[326.5,2.2],[327.1,-1],[327.7,0.5],[328.4,18.5],[328.9,-3],[329.5,1.2],[330.1,-0.4],[330.7,-6.3],[331,-10],[331.4,7.4],[332,20.1],[332.5,2.6],[333,16.4],[333,-4.2],[333.6,0.1],[334.2,-1.6],[334.7,7.4],[335.3,3.4],[335.9,-0.7],[336.5,1.4],[337.1,-2.7],[337.7,13.2],[338.1,-6.3],[338.7,0.6],[339.3,-1.3],[339.8,13.8],[340.4,5.8],[341,-0.2],
[341.8,-3.2],[342.4,13.8],[342.9,1.7],[343.5,-1.4],[344.1,0.4],[344.8,10.1],[345.4,2.9],[346.1,-4.2],[346.8,7.4],[347.4,0.8],[348.1,-2],[348.8,1.5],[349.8,5.3],[349.8,-6.9],[350.6,0.2],[351.3,-1.7],[351.8,-6.9],[352.5,-3.2],[353.2,1.9],[353.8,19.3],[354.8,13.2],[354.8,7.4],[355.5,-0.5],[356.3,2.4],[357.2,-7.9],[358.2,6.3],[358.9,-2.1],[359.6,0.9],[360.4,2.8],[361.6,-3.7],
[362.4,0.3],[363.4,20.1],[364.2,-0.9],[364.9,-1.6],[365.2,2.3],[366.3,-2.9],[367.2,-5.8],[368.3,1.6],[368.9,15.4],[369.3,-4.8],[370.4,0.6],[371.4,-1.1],[372,-4.2],[372.3,0],[373.4,2.2],[374.6,-0.8],[375.6,0.5],[376.3,8.5],[378,5.3],[378.3,-2.1],[379.3,-2.1],[381.5,0.4],[384,1.3],[385.2,28.3],[388.1,30.2]
];

// the dense central band of the high-dose group
const highDoseCorePoints = [
[255.3,-1.3],[255.6,1.8],[255.9,-3.2],[256.2,0.4],[256.5,-0.7],[256.8,2.7],[257.1,-2.1],[257.4,0],[257.7,-4.1],[258,1.2],[258.3,-1.4],[258.6,3.1],[258.9,-0.5],[259.2,-2.8],[259.5,0.9],[259.8,-1],[260.1,2.2],[260.4,-3.6],[260.7,-0.2],[261,1.5],[261.3,-1.9],[261.6,0.6],[261.9,-4.5],[262.2,-0.8],[262.5,2.5],[262.8,-1.5],[263.1,0.2],[263.4,-2.6],[263.7,1.1],[264,-0.4],
[264.3,3.6],[264.6,-3.1],[264.9,-1.1],[265.2,0.7],[265.5,-2],[265.8,1.9],[266.1,-0.6],[266.4,-4],[266.7,0.3],[267,-1.3],[267.3,2.9],[267.6,-2.4],[267.9,0.1],[268.2,-0.9],[268.5,1.6],[268.8,-3.3],[269.1,-0.3],[269.4,2.3],[269.7,-1.7],[270,0.5],[270.3,-2.9],[270.6,1.2],[270.9,-0.7],[271.2,-4.3],[271.5,0.8],[271.8,-1.5],[272.1,3.3],[272.4,-2.2],[272.7,0],[273,1.4],
[273.3,-3.5],[273.6,-0.5],[273.9,2],[274.2,-1.2],[274.5,0.4],[274.8,-2.7],[275.1,1.7],[275.4,-0.1],[275.7,-3.9],[276,0.9],[276.3,-1.6],[276.6,2.6],[276.9,-0.8],[277.2,-2.3],[277.5,0.6],[277.8,-1],[278.1,3.9],[278.4,-3],[278.7,-0.2],[279,1.3],[279.3,-1.8],[279.6,0.2],[279.9,-4.6],[280.2,-0.6],[280.5,2.1],[280.8,-2.5],[281.1,0.7],[281.4,-1.1],[281.7,1.8],[282,-3.4],
[282.3,-0.4],[282.6,0.5],[282.9,-2],[283.2,2.8],[283.5,-1.3],[283.8,-4.1],[284.1,0.3],[284.4,-0.9],[284.7,1.6],[285,-2.8],[285.3,0],[285.6,-1.5],[285.9,3],[286.2,-3.6],[286.5,-0.7],[286.8,1.1],[287.1,-1.9],[287.4,0.5],[287.7,-4.4],[288,-1.2],[288.3,2.4],[288.6,-0.3],[288.9,-2.4],[289.2,0.9],[289.5,-1.6],[289.8,1.9],[290.1,-3.1],[290.4,-0.5],[290.7,0.7],[291,-2.1],
[291.3,3.5],[291.6,-1],[291.9,-3.7],[292.2,0.2],[292.5,-1.4],[292.8,1.4],[293.1,-2.6],[293.4,-0.2],[293.7,2.6],[294,-1.8],[294.3,-4.2],[294.6,0.6],[294.9,-0.8],[295.2,1.7],[295.5,-2.3],[295.8,-0.1],[296.1,-3.3],[296.4,1],[296.7,-1.3],[297,3.2],[297.3,-2],[297.6,0.3],[297.9,-0.6],[298.2,-3.8],[298.5,1.5],[298.8,-1.7],[299.1,0.1],[299.4,-2.7],[299.7,2.3],[300,-0.9],
[300.3,-4.6],[300.6,0.8],[300.9,-1.2],[301.2,1.9],[301.5,-2.5],[301.8,-0.3],[302.1,0.6],[302.4,-3.4],[302.7,2.7],[303,-1.5],[303.3,-0.5],[303.6,-2.2],[303.9,1.2],[304.2,-4.1],[304.5,-0.7],[304.8,0.4],[305.1,-1.9],[305.4,3],[305.7,-3],[306,-0.2],[306.3,1.4],[306.6,-1.3],[306.9,-3.7],[307.2,0.7],[307.5,-0.9],[307.8,2.1],[308.1,-2.4],[308.4,0],[308.7,-1.6],[309,1.1],
[309.3,-4.3],[309.6,-0.4],[309.9,2.5],[310.2,-2],[310.5,0.3],[310.8,-1.1],[311.1,-3.2],[311.4,1.6],[311.7,-0.6],[312,-2.6],[312.3,0.9],[312.6,-1.4],[312.9,3.4],[313.2,-3.6],[313.5,-0.1],[313.8,1.3],[314.1,-1.8],[314.4,-0.8],[314.7,-4],[315,0.5],[315.3,-2.2],[315.6,2],[315.9,-1],[316.2,0.2],[316.5,-3],[316.8,1.7],[317.1,-1.5],[317.4,-0.3],[317.7,-2.5],[318,2.9],
[318.3,-0.7],[318.6,-3.9],[318.9,0.6],[319.2,-1.2],[319.5,1.4],[319.8,-2.1],[320.1,-0.2],[320.4,-4.4],[320.7,0.9],[321,-1.7],[321.3,2.4],[321.6,-2.8],[321.9,-0.5],[322.2,0.4],[322.5,-1.3],[322.8,-3.4],[323.1,1.5],[323.4,-0.9],[323.7,-2.3],[324,0.1],[324.3,2.6],[324.6,-1.6],[324.9,-3.8],[325.2,0.7],[325.5,-0.6],[325.8,-2],[326.1,1.2],[326.4,-4.2],[326.7,-1.1],[327,0.3],
[327.3,2],[327.6,-2.6],[327.9,-0.2],[328.2,-1.4],[328.5,1],[328.8,-3.3],[329.1,-0.7],[329.4,2.8],[329.7,-1.9],[330,0.5],[330.3,-2.9],[330.6,-0.4],[330.9,1.6],[331.2,-1.2],[331.5,-4],[331.8,0.8],[332.1,-0.9],[332.4,2.2],[332.7,-2.4],[333,-0.1],[333.3,1.3],[333.6,-3.5],[333.9,-1.3],[334.2,0.4],[334.5,-2.1],[334.8,3.1],[335.1,-0.6],[335.4,-3.1],[335.7,1.1],[336,-1.6],
[336.3,-0.2],[336.6,2.4],[336.9,-2.7],[337.2,0.6],[337.5,-1],[337.8,-4.3],[338.1,1.5],[338.4,-0.5],[338.7,-2.2],[339,0.9],[339.3,2.9],[339.6,-1.7],[339.9,-0.3],[340.2,-3.4],[340.5,1.2],[340.8,-1.2],[341.1,0.3],[341.4,-2.5],[341.7,2.1],[342,-0.8],[342.3,-3.9],[342.6,0.5],[342.9,-1.5],[343.2,1.8],[343.5,-2.1],[343.8,-0.2],[344.1,3.6],[344.4,-3],[344.7,-0.7],[345,1],
[345.6,-1.8],[346.2,0.2],[346.8,-2.9],[347.4,1.6],[348,-0.9],[349,-1.6],[350,0.8],[351,-2.3],[352,1.3],[353,-0.5],[354,-3.1],[355,0.5],[356,-1.4],[357,2],[358,-0.8],[359,-2.5],[360,0.9],[361,-1.2],[362,1.8],[363,-3],[364,0.2],[365,-0.7],[366,1.2],[367,-2.2],[368,0.5],[369,-1.5],[370,-3.2],[371,0.8],[372,-0.9],
[260.2,-2.1],[260.5,0.6],[260.9,-0.7],[261.2,1.9],[261.6,-3],[261.9,-1.2],[262.3,0.3],[262.6,-1.8],[263,2.3],[263.3,-0.4],[263.7,-2.7],[264,0.9],[264.4,-1.1],[264.7,1.4],[265.1,-3.4],[265.4,-0.6],[265.8,0.2],[266.1,-1.6],[266.5,2.6],[266.8,-2.2],[267.2,-0.1],[267.5,-1],[267.9,1.1],[268.2,-3.1],[268.6,0.5],[268.9,-1.4],[269.3,-0.3],[269.6,2],[270,-2.5],[270.3,-0.9],
[270.7,0.8],[271,-1.7],[271.4,-3.6],[271.7,0.1],[272.1,-0.6],[272.4,1.6],[272.8,-2],[273.1,-0.2],[273.5,-1.3],[273.8,2.4],[274.2,-2.8],[274.5,-0.5],[274.9,0.6],[275.2,-1.1],[275.6,-3.2],[275.9,1.2],[276.3,-0.8],[276.6,-1.9],[277,0.3],[277.3,2.8],[277.7,-2.4],[278,-0.3],[278.4,-1.5],[278.7,0.8],[279.1,-3.5],[279.4,-0.9],[279.8,1.5],[280.1,-2.1],[280.5,0],[280.8,-1.2],
[281.2,2.2],[281.5,-2.9],[281.9,-0.6],[282.2,0.4],[282.6,-1.7],[282.9,-3.3],[283.3,1],[283.6,-0.4],[284,-1.4],[284.3,1.8],[284.7,-2.3],[285,-0.1],[285.4,-1],[285.7,0.7],[286.1,-3.6],[286.4,-0.8],[286.8,2.5],[287.1,-1.8],[287.5,0.2],[287.8,-2.6],[288.2,-0.5],[288.5,1.2],[288.9,-1.3],[289.2,-3.1],[289.6,0.5],[289.9,-0.7],[290.3,2],[290.6,-2.2],[291,-0.2],[291.3,-1.6],
[291.7,1],[292,-3.4],[292.4,-0.9],[292.7,0.3],[293.1,-1.1],[293.4,2.4],[293.8,-2.7],[294.1,-0.4],[294.5,0.9],[294.8,-1.9],[295.2,-3],[295.5,0.1],[295.9,-0.6],[296.2,1.6],[296.6,-2.4],[296.9,-1],[297.3,0.6],[297.6,-1.5],[298,-3.5],[298.3,1.3],[298.7,-0.3],[299,-2],[299.4,0.4],[299.7,2.2],[300.1,-2.8],[300.4,-0.7],[300.8,0.2],[301.1,-1.3],[301.5,-3.2],[301.8,1.1],
[302.2,-0.5],[302.5,-1.8],[302.9,0.7],[303.2,2.6],[303.6,-2.5],[303.9,-0.1],[304.3,-1.1],[304.6,1.4],[305,-3.6],[305.3,-0.8],[305.7,0.5],[306,-2.1],[306.4,1.9],[306.7,-1.4],[307.1,-0.3],[307.4,-2.9],[307.8,0.9],[308.1,-0.9],[308.5,-1.7],[308.8,2.3],[309.2,-2.3],[309.5,-0.5],[309.9,0.3],[310.2,-3.3],[310.6,-1.2],[310.9,1.2],[311.3,-0.2],[311.6,-2.6],[312,0.7],[312.3,-1.5],
[312.7,-3.1],[313,1.7],[313.4,-0.6],[313.7,-1.9],[314.1,0.1],[314.4,2.5],[314.8,-2.7],[315.1,-1],[315.5,0.8],[315.8,-1.6],[316.2,-3.5],[316.5,0.4],[316.9,-0.4],[317.2,1.5],[317.6,-2.2],[317.9,-0.8],[318.3,0.2],[318.6,-3],[319,-1.3],[319.3,2.1],[319.7,-0.5],[320,-2.4],[320.4,0.6],[320.7,-1.1],[321.1,-3.4],[321.4,1.3],[321.8,-0.2],[322.1,-1.8],[322.5,0.9],[322.8,2.7],
[323.2,-2.6],[323.5,-0.7],[323.9,0.3],[324.2,-1.4],[324.6,-3.2],[324.9,1],[325.3,-0.9],[325.6,-2.1],[326,0.5],[326.3,1.8],[326.7,-2.8],[327,-0.3],[327.4,-1.2],[327.7,0.8],[328.1,-3.6],[328.4,-0.6],[328.8,1.4],[329.1,-1.7],[329.5,-0.1],[329.8,-2.5],[330.2,2.4],[330.5,-1],[330.9,0.2],[331.2,-3],[331.6,-0.4],[331.9,1.1],[332.3,-1.9],[332.6,-0.8],[333,-2.7],[333.3,0.6],
[333.7,1.9],[334,-1.5],[334.4,-3.3],[334.7,-0.2],[335.1,0.9],[335.4,-2.2],[335.8,-1.1],[336.1,2.2],[336.5,-2.9],[336.8,-0.5],[337.2,0.4],[337.5,-1.6],[337.9,-3.1],[338.2,1.3],[338.6,-0.7],[338.9,-2],[339.3,0.7],[339.6,1.6],[340,-2.6],[340.3,-0.3],[340.7,-1.3],[341,0.5],[341.4,-3.4],[341.7,-0.9],[342.1,1.8],[342.4,-1.8],[342.8,0],[343.1,-2.3],[343.5,0.8],[343.8,-1.1],
[344.2,2.1],[344.5,-2.8],[344.9,-0.4],
[346.4,0.6],[347,-1.9],[347.7,-0.3],[348.4,1.4],[349.1,-2.7],[349.9,-0.7],[350.7,0.9],[351.5,-1.5],[352.4,-3],[353.3,0.3],[354.2,-1],[355.2,1.7],[356.2,-2.1],[357.3,-0.4],[358.4,0.8],[359.6,-1.6],[360.8,-3.2],[362.1,0.5],[363.4,-0.9],[364.7,-2.4],[366.1,0.9],[367.5,-1.3],[368.9,-0.2],[370.4,-2.6],[372,0.4],
[250,0.5],[251.2,-1.6],[252.3,-0.3],[253.4,1.8],[254.4,-2.3],[255,-0.8],[256.1,-1.4],[257,0.3],[258.2,-0.9],[259.1,1.3]
];

// the looser fringe around the high-dose band
const highDoseSpreadPoints = [
[256.6,5.1],[258.4,-5.4],[260.2,6.6],[262.1,-6.7],[263.9,4.9],[265.7,-5.2],[267.6,7.3],[269.4,-5.9],[271.2,5.8],[273.1,-7.3],[274.9,6.2],[276.7,-5],[278.6,4.8],[280.4,-5.7],[282.2,7.8],[284.1,-6.1],[285.9,5.5],[287.8,-5.1],[289.6,7],[291.4,-6.5],[293.3,5.9],[295.1,-5.5],[296.9,7.6],[298.8,-6.8],[300.6,4.8],[302.5,-5.3],[304.3,6.1],[306.1,-7.5],[308,5.2],[309.8,-5.6],
[311.6,8.1],[313.5,-6.2],[315.3,5.7],[317.2,-5.2],[319,6.8],[320.8,-7.8],[322.7,4.9],[324.5,-5.9],[326.3,7.4],[328.2,-6.3],[330,5.4],[331.8,-5.1],[333.7,6.5],[335.5,-7.1],[337.4,5],[339.2,-5.8],[341,7.7],[342.9,-6.6],[344.7,5.6]
];

const groupPoints = [
  placeboPoints.concat(placeboCorePoints, placeboSpreadPoints),
  lowDosePoints.concat(lowDoseCorePoints, lowDoseSpreadPoints),
  highDosePoints.concat(highDoseCorePoints, highDoseSpreadPoints)
];

// ---- layout ----
const svg = d3.select("#chart");
const W = 1032, H = 1037;
svg.append("rect").attr("width", W).attr("height", H).attr("fill", "#fff");

const plotLeft = 81.5, plotRight = 1031;
const panelTops = [33, 378.5, 723.5];
const panelHeight = 245.5;
const axisColor = "#262626";
const gridColor = "#dfdfdf";
const pointColor = "rgb(0,153,153)";
const fontStack = '"Liberation Sans", Arial, sans-serif';

const x = d3.scaleLinear().domain([220, 411.08]).range([plotLeft, plotRight]);

groupPoints.forEach((pts, i) => {
  const top = panelTops[i], bottom = top + panelHeight;
  const y = d3.scaleLinear().domain([-39, 39]).range([bottom, top]);
  const g = svg.append("g");

  // grid
  g.append("g").selectAll("line").data(xTicks).join("line")
    .attr("x1", d => x(d)).attr("x2", d => x(d))
    .attr("y1", top).attr("y2", bottom)
    .attr("stroke", gridColor).attr("stroke-width", 1);
  g.append("g").selectAll("line").data(yTicks).join("line")
    .attr("x1", plotLeft).attr("x2", plotRight)
    .attr("y1", d => y(d)).attr("y2", d => y(d))
    .attr("stroke", gridColor).attr("stroke-width", 1);

  // scatter of differences
  g.append("g").selectAll("circle").data(pts).join("circle")
    .attr("cx", d => x(d[0])).attr("cy", d => y(d[1]))
    .attr("r", 6.8)
    .attr("fill", pointColor).attr("fill-opacity", 0.13);

  // limits of agreement and mean difference
  const [x0, x1] = lineSpans[i];
  const xe = Math.min(x1, 411.08);
  const hline = (v, dash, color) => g.append("line")
    .attr("x1", x(x0)).attr("x2", x(xe))
    .attr("y1", y(v)).attr("y2", y(v))
    .attr("stroke", color).attr("stroke-width", 1.1)
    .attr("stroke-dasharray", dash);
  hline(upperLimits[i], "5,4", "#111");
  hline(meanDiffs[i], null, "#111");
  hline(lowerLimits[i], "5,4", "#3a3a3a");

  // regression of difference on mean
  const [r0, r1] = regressionEnds[i];
  const slope = (r1 - r0) / (x1 - x0);
  g.append("line")
    .attr("x1", x(x0)).attr("x2", x(xe))
    .attr("y1", y(r0)).attr("y2", y(r0 + slope * (xe - x0)))
    .attr("stroke", "#1f1fff").attr("stroke-width", 1.1)
    .attr("stroke-dasharray", "4,3");

  // axes with inward ticks
  const fmt = d => String(d);
  const xAxis = d3.axisBottom(x).tickValues(xTicks).tickFormat(fmt)
    .tickSizeInner(-10).tickSizeOuter(0).tickPadding(14);
  const ax = g.append("g").attr("transform", `translate(0,${bottom})`).call(xAxis);
  const yAxis = d3.axisLeft(y).tickValues(yTicks).tickFormat(fmt)
    .tickSizeInner(-10).tickSizeOuter(0).tickPadding(9);
  const ay = g.append("g").attr("transform", `translate(${plotLeft},0)`).call(yAxis);
  [ax, ay].forEach(a => {
    a.select(".domain").attr("stroke", axisColor).attr("stroke-width", 1.3);
    a.selectAll(".tick line").attr("stroke", axisColor).attr("stroke-width", 1.3);
    a.selectAll(".tick text").attr("fill", "#000").style("font-size", "22.5px")
      .style("font-family", fontStack);
  });

  // panel name
  g.append("text").attr("x", 120).attr("y", top + 34)
    .style("font-size", "26px").text(panelNames[i]);

  // x axis title
  g.append("text").attr("x", (plotLeft + plotRight) / 2).attr("y", bottom + 58)
    .attr("text-anchor", "middle").style("font-size", "24.5px").text(xAxisTitles[i]);
});

// figure title
svg.append("text").attr("x", 556).attr("y", 26).attr("text-anchor", "middle")
  .style("font-size", "24.5px").style("font-weight", "bold").text(figureTitle);

// shared y axis title
svg.append("text").attr("transform", "translate(31,487) rotate(-90)")
  .attr("text-anchor", "middle").style("font-size", "24.5px").text(yAxisTitle);

// legend
const lg = svg.append("g").attr("transform", "translate(816.7,345.7)");
lg.append("rect").attr("width", 191.6).attr("height", 101)
  .attr("fill", "#fff").attr("stroke", axisColor).attr("stroke-width", 1);
const legendStyles = [
  { dash: "4,3", color: "#555" },
  { dash: null, color: "#333" },
  { dash: "4,3", color: "#555" },
  { dash: "4,3", color: "#4d4dff" }
];
legendLabels.forEach((lab, k) => {
  const cy = 17.6 + k * 22.4;
  lg.append("line").attr("x1", 7.6).attr("x2", 76.6).attr("y1", cy).attr("y2", cy)
    .attr("stroke", legendStyles[k].color).attr("stroke-width", 1)
    .attr("stroke-dasharray", legendStyles[k].dash);
  lg.append("text").attr("x", 90).attr("y", cy + 7)
    .style("font-size", "20px").text(lab);
});
</script>
</body>
</html>
